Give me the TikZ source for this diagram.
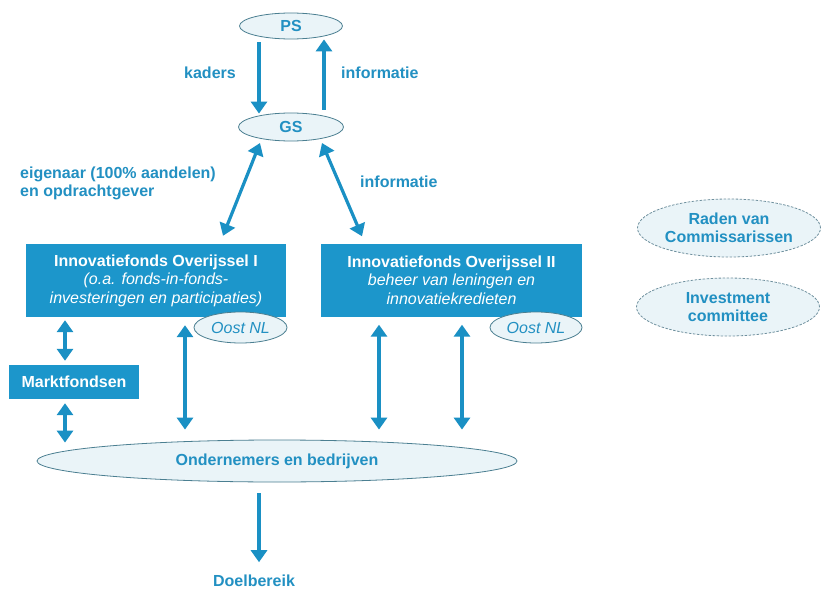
\documentclass[tikz,border=0pt]{standalone}
\usepackage{fontspec}
\setmainfont{Liberation Sans}
\usetikzlibrary{arrows.meta,shapes.geometric,calc}
\definecolor{boxblue}{HTML}{1C96CB}
\definecolor{txtblue}{HTML}{2290C2}
\definecolor{arrblue}{HTML}{1A90C4}
\definecolor{ellfill}{HTML}{EAF4F8}
\definecolor{ellline}{HTML}{4B7F91}
\definecolor{dashline}{HTML}{6F909E}
\tikzset{
  big/.style={font=\fontsize{16}{18.5}\selectfont},
  bluebox/.style={big, draw=none, fill=boxblue, text=white, align=center, inner sep=0pt, minimum width=#1},
  ell/.style={big, ellipse, draw=ellline, line width=0.8pt, fill=ellfill, text=txtblue, inner sep=0pt, align=center},
  dell/.style={ell, draw=dashline, dash pattern=on 2.5pt off 1.5pt, line width=0.8pt},
  lbl/.style={big, text=txtblue, inner sep=0pt, align=left, font=\fontsize{16}{18}\selectfont\bfseries},
  sarr/.style={draw=arrblue, line width=3.2pt, -{Triangle[width=16pt,length=12pt]}},
  darr/.style={draw=arrblue, line width=3.2pt, {Triangle[width=16pt,length=12pt]}-{Triangle[width=16pt,length=12pt]}}
}
\begin{document}
\begin{tikzpicture}[x=1pt,y=-1pt]
\fill[white] (0,0) rectangle (822,591);
\useasboundingbox (0,0) rectangle (822,591);

% top ellipses
\node[ell, minimum width=103pt, minimum height=26pt] (ps) at (291,26) {\bfseries PS};
\node[ell, minimum width=105pt, minimum height=28pt] (gs) at (291,127) {\bfseries GS};

% boxes
\node[bluebox=260pt, minimum height=73pt] (b1) at (156,280.5)
  {\bfseries Innovatiefonds Overijssel I\\ \itshape (o.a. fonds-in-fonds-\\ \itshape investeringen en participaties)};
\node[bluebox=261pt, minimum height=73pt] (b2) at (451.5,280)
  {\bfseries Innovatiefonds Overijssel II\\ \itshape beheer van leningen en\\ \itshape innovatiekredieten};
\node[ell, minimum width=93pt, minimum height=31pt] (o1) at (240.5,327.5) {\itshape Oost NL};
\node[ell, minimum width=92pt, minimum height=31pt] (o2) at (536,327.5) {\itshape Oost NL};

\node[bluebox=130pt, minimum height=34pt] (mf) at (74,382) {\bfseries Marktfondsen};

\node[ell, minimum width=480pt, minimum height=42pt] (ond) at (277,461) {\bfseries Ondernemers en bedrijven};

\node[lbl, anchor=base] (doel) at (254,586) {Doelbereik};

% right dashed ellipses
\node[dell, minimum width=183pt, minimum height=58pt] (rvc) at (729,228) {\bfseries Raden van\\\bfseries Commissarissen};
\node[dell, minimum width=183pt, minimum height=58pt] (ic) at (728,307) {\bfseries Investment\\\bfseries committee};

% labels
\node[lbl, anchor=east] (lk) at (236,73) {kaders};
\node[lbl, anchor=west] (li1) at (341,73) {informatie};
\node[lbl, anchor=west] (lo) at (20,183) {eigenaar (100\% aandelen)\\en opdrachtgever};
\node[lbl, anchor=west] (li2) at (360,182) {informatie};

% x positions
\coordinate (xk) at (259,0);
\coordinate (xi) at (324,0);
\coordinate (xm) at (65,0);
\coordinate (xa) at (185,0);
\coordinate (xb) at (379,0);
\coordinate (xc) at (462,0);
\coordinate (xd) at (259,0);

% connectors
\draw[sarr, shorten <=3pt, shorten >=-1pt] (ps.south -| xk) -- (gs.north -| xk);
\draw[sarr, shorten <=3pt, shorten >=0pt] (gs.north -| xi) -- (ps.south -| xi);

\draw[darr] ([shift={(-31,16)}]gs.center) -- ([shift={(67,-8)}]b1.north);
\draw[darr] ([shift={(31,16)}]gs.center) -- ([shift={(-89.5,-7)}]b2.north);

\draw[darr, shorten <=3pt, shorten >=4pt] (b1.south -| xm) -- (mf.north -| xm);
\draw[darr, shorten <=4pt, shorten >=-3pt] (mf.south -| xm) -- (ond.north -| xm);

\draw[darr, shorten <=8pt, shorten >=10pt] (b1.south -| xa) -- (ond.north -| xa);
\draw[darr, shorten <=8pt, shorten >=10pt] (b2.south -| xb) -- (ond.north -| xb);
\draw[darr, shorten <=8pt, shorten >=10pt] (b2.south -| xc) -- (ond.north -| xc);

\draw[sarr, shorten <=11pt, shorten >=12pt] (ond.south -| xd) -- (doel.north -| xd);
\end{tikzpicture}
\end{document}
